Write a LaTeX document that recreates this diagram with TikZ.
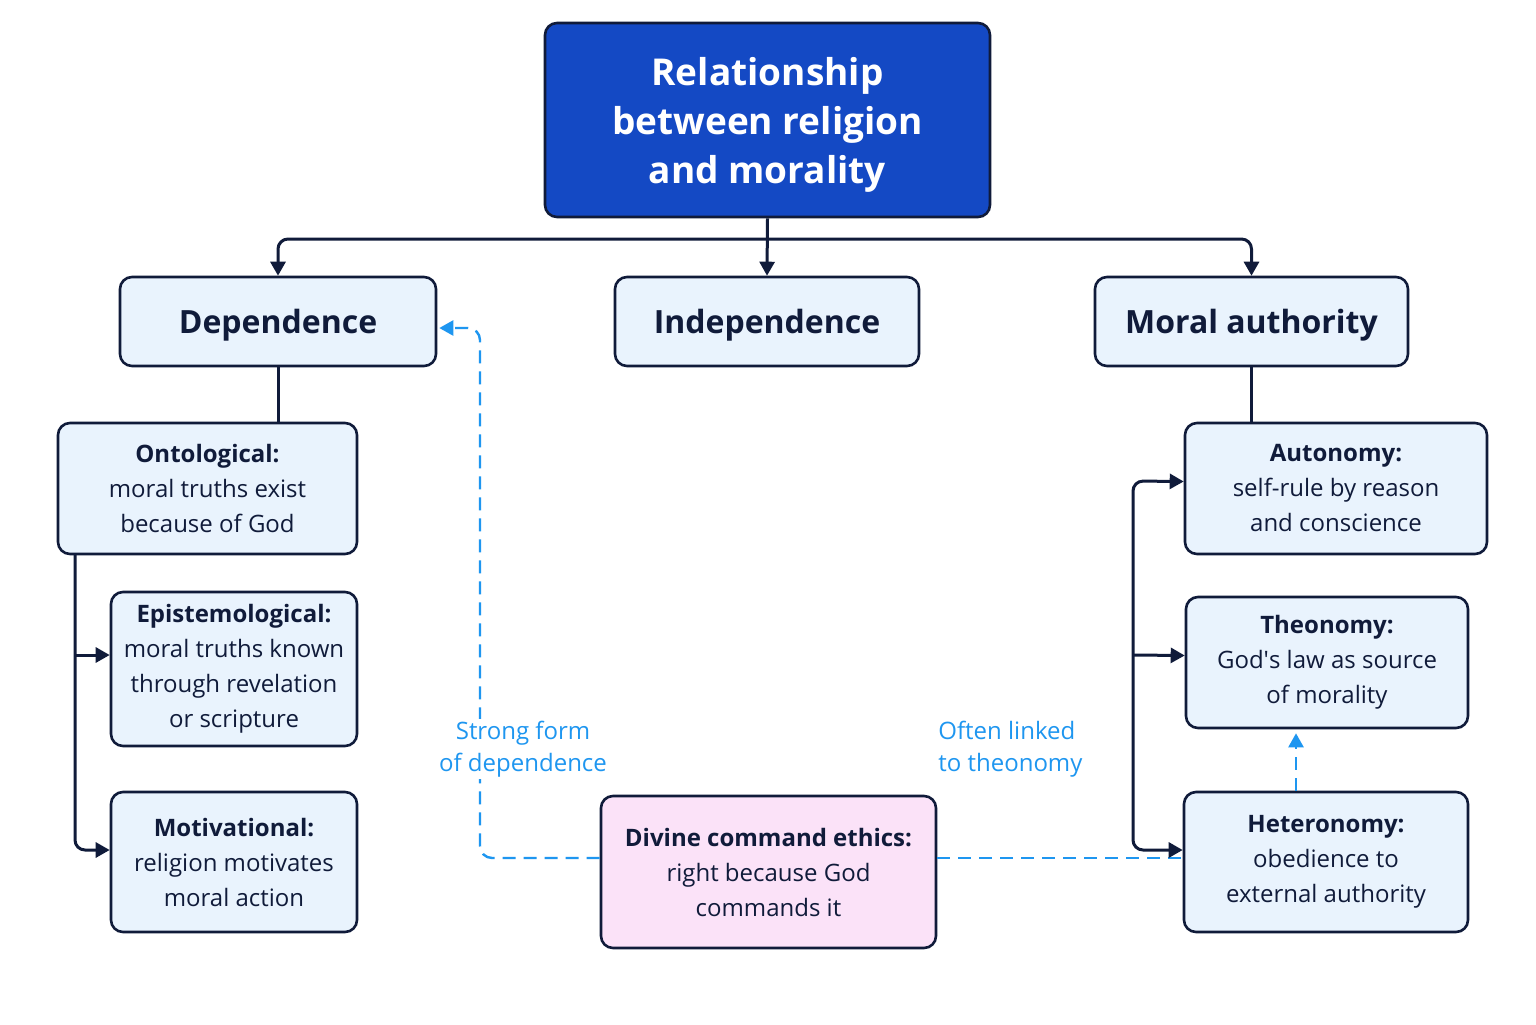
\documentclass[tikz,border=0pt]{standalone}
\usepackage{fontspec}
\setmainfont{Open Sans}
\usetikzlibrary{arrows.meta,calc}
\definecolor{navy}{HTML}{101B3A}
\definecolor{titleblue}{HTML}{1449C4}
\definecolor{boxfill}{HTML}{E9F3FD}
\definecolor{pinkfill}{HTML}{FBE2F8}
\definecolor{dashblue}{HTML}{1E96F0}
\newcommand{\lowerby}[2]{\raisebox{-#1}[\height][\depth]{#2}}
\begin{document}
\begin{tikzpicture}[x=0.5pt,y=-0.5pt,
  box/.style={draw=navy,line width=1.3pt,rounded corners=6pt,fill=boxfill,align=center,text=navy,inner sep=0pt},
  body/.style={font=\fontsize{12}{17.5}\selectfont},
  head/.style={font=\fontsize{16}{19}\selectfont\bfseries},
  conn/.style={draw=navy,line width=1.5pt},
  arr/.style={conn,-{Triangle[length=7pt,width=7.5pt]}},
  darr/.style={draw=dashblue,line width=1.2pt,dash pattern=on 6.5pt off 4pt},
  lbl/.style={text=dashblue,font=\fontsize{12}{16}\selectfont,inner sep=1pt}
]
\useasboundingbox[fill=white] (0,0) rectangle (1536,1024);
% nodes
\node[box,fill=titleblue,text=white,minimum width=222.5pt,minimum height=97pt,
  font=\fontsize{18.5}{24.5}\selectfont\bfseries] (title) at (767.5,120) {\lowerby{2.5pt}{\parbox{200pt}{\centering Relationship\\between religion\\and morality}}};
\node[box,head,minimum width=158pt,minimum height=44.5pt] (dep) at (278,321.5) {\lowerby{2pt}{Dependence}};
\node[box,head,minimum width=152pt,minimum height=44.5pt] (ind) at (767,321.5) {\lowerby{2pt}{Independence}};
\node[box,head,minimum width=156.5pt,minimum height=44.5pt] (mor) at (1251.5,321.5) {\lowerby{2pt}{Moral authority}};
\node[box,body,minimum width=149.5pt,minimum height=65.5pt] (ont) at (207.5,488.5) {\textbf{Ontological:}\\moral truths exist\\because of God};
\node[box,body,minimum width=123pt,minimum height=77pt] (epi) at (234,669) {\textbf{Epistemological:}\\moral truths known\\through revelation\\or scripture};
\node[box,body,minimum width=123pt,minimum height=70pt] (mot) at (234,862) {\textbf{Motivational:}\\religion motivates\\moral action};
\node[box,body,minimum width=151pt,minimum height=65.5pt] (aut) at (1336,488.5) {\textbf{Autonomy:}\\self-rule by reason\\and conscience};
\node[box,body,minimum width=141pt,minimum height=65.5pt] (theo) at (1327,662.5) {\textbf{Theonomy:}\\God\textquotesingle s law as source\\of morality};
\node[box,body,minimum width=142pt,minimum height=70pt] (het) at (1326,862) {\textbf{Heteronomy:}\\obedience to\\external authority};
\node[box,body,fill=pinkfill,minimum width=167.5pt,minimum height=76pt] (dce) at (768.5,872) {\textbf{Divine command ethics:}\\right because God\\commands it};
% tree connectors
\coordinate (bus) at (768,239);
\draw[arr] (title.south) -- (ind.north);
\draw[arr,rounded corners=5pt] (bus) -| (dep.north);
\draw[arr,rounded corners=5pt] (bus) -| (mor.north);
\draw[conn] (dep.south) -- (dep.south |- ont.north);
\draw[conn] (mor.south) -- (mor.south |- aut.north);
% left trunk
\coordinate (lt) at (75,554);
\coordinate (lb) at (75,850);
\draw[arr,rounded corners=5pt] (lt) -- (lb) -- ($(mot.west)+(0,-12)$);
\draw[arr] (lt |- 0,655) -- ($(epi.west)+(0,-14)$);
% right trunk
\coordinate (ra) at (1133,481);
\coordinate (rh) at (1133,850);
% dashed links
\draw[darr] ($(dce.east)+(0,-14)$) -- ($(het.west)+(0,-4)$);
\draw[darr,rounded corners=6pt,-{Triangle[length=7pt,width=7.5pt]}] ($(dce.west)+(0,-14)$) -- (480,858) -- (480,328) -- ($(dep.east)+(2,6.5)$);
\draw[darr,-{Triangle[length=7pt,width=7.5pt]}] (het.north -| 1296,0) -- ($(theo.south -| 1296,0)+(0,4)$);
\draw[{Triangle[length=7pt,width=7.5pt]}-{Triangle[length=7pt,width=7.5pt]},conn,rounded corners=5pt] ($(aut.west)+(0,-7)$) -- (ra) -- (rh) -- ($(het.west)+(0,-12)$);
\draw[arr] (ra |- 0,655) -- ($(theo.west)+(0,-7)$);
% labels
\node[lbl,fill=white,align=center] (l1) at (523,749) {Strong form\\of dependence};
\node[lbl,align=left,anchor=west] (l2) at (936,749) {Often linked\\to theonomy};
\end{tikzpicture}
\end{document}
